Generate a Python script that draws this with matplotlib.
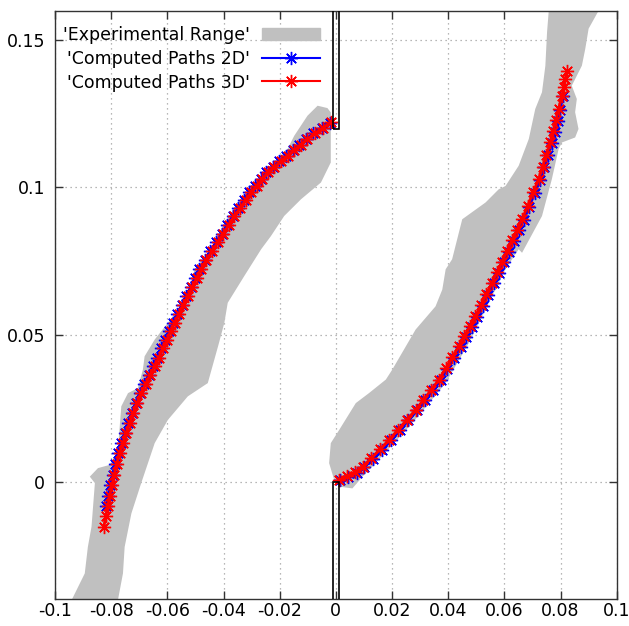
import matplotlib
matplotlib.use("Agg")
import matplotlib.pyplot as plt
from matplotlib.patches import Rectangle, Polygon
from matplotlib.ticker import FormatStrFormatter

plt.rcParams["font.family"] = ["DejaVu Sans"]
plt.rcParams["font.size"] = 12
plt.rcParams["axes.unicode_minus"] = False

# experimental range, left branch (outline)
band_left_x = [-0.0065, -0.0030, -0.0018, -0.0018, -0.0053, -0.0124, -0.0184, -0.0231, -0.0266,
               -0.0326, -0.0385, -0.0397, -0.0418, -0.0456, -0.0527, -0.0598, -0.0645,
               -0.0693, -0.0728, -0.0752, -0.0758, -0.0776, -0.0941, -0.0894, -0.0883, -0.0870,
               -0.0858, -0.0876, -0.0847, -0.0805, -0.0776, -0.0764, -0.0740, -0.0705, -0.0687,
               -0.0681, -0.0645, -0.0598, -0.0527, -0.0503, -0.0444, -0.0409, -0.0350, -0.0290,
               -0.0231, -0.0172, -0.0148, -0.0101]
band_left_y = [0.1278, 0.1270, 0.1255, 0.1085, 0.1017, 0.0960, 0.0903, 0.0835, 0.0790,
               0.0699, 0.0608, 0.0540, 0.0465, 0.0335, 0.0290, 0.0210, 0.0131,
               -0.0005, -0.0108, -0.0222, -0.0312, -0.0403, -0.0403, -0.0312, -0.0222, -0.0153,
               -0.0005, 0.0017, 0.0046, 0.0057, 0.0108, 0.0256, 0.0301, 0.0318, 0.0381,
               0.0426, 0.0483, 0.0540, 0.0631, 0.0722, 0.0790, 0.0858, 0.0949, 0.1017,
               0.1074, 0.1131, 0.1176, 0.1244]

# experimental range, right branch (outline)
band_right_x = [0.0012, 0.0059, 0.0095, 0.0130, 0.0272, 0.0391, 0.0474, 0.0545, 0.0604,
                0.0651, 0.0663, 0.0734, 0.0769, 0.0793, 0.0805, 0.0852, 0.0864, 0.0852,
                0.0858, 0.0840, 0.0876, 0.0888, 0.0900, 0.0935, 0.0758, 0.0752, 0.0746,
                0.0734, 0.0710, 0.0687, 0.0651, 0.0604, 0.0580, 0.0533, 0.0450, 0.0414,
                0.0391, 0.0379, 0.0355, 0.0284, 0.0201, 0.0178, 0.0118, 0.0071, 0.0012,
                -0.0018, -0.0024, -0.0006]
band_right_y = [-0.0017, -0.0023, 0.0017, 0.0051, 0.0199, 0.0335, 0.0472, 0.0608, 0.0722,
                0.0790, 0.0778, 0.0903, 0.1028, 0.1130, 0.1153, 0.1170, 0.1199, 0.1256,
                0.1301, 0.1346, 0.1414, 0.1471, 0.1540, 0.1600, 0.1600, 0.1528, 0.1414,
                0.1324, 0.1267, 0.1165, 0.1074, 0.1005, 0.0994, 0.0949, 0.0892, 0.0756,
                0.0722, 0.0653, 0.0596, 0.0517, 0.0381, 0.0347, 0.0301, 0.0267, 0.0176,
                0.0131, 0.0063, 0.0006]

# computed paths 3D
left3d_x = [-0.0826, -0.0819, -0.0812, -0.0805, -0.0797, -0.0789, -0.0780, -0.0770, -0.0758,
            -0.0746, -0.0734, -0.0721, -0.0707, -0.0693, -0.0677, -0.0661, -0.0645, -0.0630,
            -0.0615, -0.0601, -0.0588, -0.0574, -0.0558, -0.0543, -0.0527, -0.0511, -0.0496,
            -0.0480, -0.0461, -0.0441, -0.0421, -0.0401, -0.0381, -0.0361, -0.0341, -0.0321,
            -0.0302, -0.0282, -0.0262, -0.0243, -0.0219, -0.0196, -0.0172, -0.0148, -0.0125,
            -0.0101, -0.0074, -0.0046, -0.0018]
left3d_y = [-0.0153, -0.0118, -0.0083, -0.0048, -0.0012, 0.0024, 0.0060, 0.0097, 0.0131,
            0.0165, 0.0199, 0.0233, 0.0267, 0.0301, 0.0332, 0.0362, 0.0392, 0.0422,
            0.0453, 0.0483, 0.0512, 0.0540, 0.0570, 0.0601, 0.0631, 0.0661, 0.0692,
            0.0722, 0.0752, 0.0783, 0.0813, 0.0843, 0.0873, 0.0903, 0.0930, 0.0957,
            0.0983, 0.1006, 0.1029, 0.1051, 0.1070, 0.1089, 0.1108, 0.1127, 0.1146,
            0.1165, 0.1184, 0.1203, 0.1222]
right3d_x = [0.0012, 0.0040, 0.0068, 0.0095, 0.0126, 0.0158, 0.0189, 0.0221, 0.0252,
             0.0284, 0.0312, 0.0340, 0.0367, 0.0391, 0.0415, 0.0438, 0.0458, 0.0477,
             0.0497, 0.0517, 0.0536, 0.0556, 0.0574, 0.0592, 0.0610, 0.0628, 0.0645,
             0.0663, 0.0683, 0.0702, 0.0722, 0.0736, 0.0750, 0.0764, 0.0774, 0.0784,
             0.0793, 0.0805, 0.0811, 0.0817, 0.0823]
right3d_y = [0.0006, 0.0018, 0.0033, 0.0051, 0.0080, 0.0111, 0.0142, 0.0176, 0.0210,
             0.0244, 0.0278, 0.0313, 0.0347, 0.0385, 0.0423, 0.0460, 0.0494, 0.0528,
             0.0562, 0.0600, 0.0638, 0.0676, 0.0712, 0.0748, 0.0784, 0.0820, 0.0856,
             0.0892, 0.0937, 0.0983, 0.1028, 0.1070, 0.1111, 0.1153, 0.1191, 0.1229,
             0.1267, 0.1312, 0.1340, 0.1369, 0.1397]

# computed paths 2D
left2d_x = [-0.0818, -0.0811, -0.0803, -0.0795, -0.0786, -0.0776, -0.0764, -0.0752,
            -0.0740, -0.0727, -0.0713, -0.0699, -0.0683, -0.0667, -0.0651, -0.0636,
            -0.0621, -0.0607, -0.0594, -0.0580, -0.0564, -0.0549, -0.0533, -0.0517, -0.0502,
            -0.0486, -0.0467, -0.0447, -0.0427, -0.0407, -0.0387, -0.0367, -0.0347, -0.0327,
            -0.0308, -0.0288, -0.0268, -0.0249, -0.0225, -0.0202, -0.0178, -0.0154, -0.0131,
            -0.0107, -0.0080, -0.0051, -0.0022]
left2d_y = [-0.0083, -0.0048, -0.0012, 0.0024, 0.0060, 0.0097, 0.0131, 0.0165,
            0.0199, 0.0233, 0.0267, 0.0301, 0.0332, 0.0362, 0.0392, 0.0422,
            0.0453, 0.0483, 0.0512, 0.0540, 0.0570, 0.0601, 0.0631, 0.0661, 0.0692,
            0.0722, 0.0752, 0.0783, 0.0813, 0.0843, 0.0873, 0.0903, 0.0930, 0.0957,
            0.0983, 0.1006, 0.1029, 0.1051, 0.1070, 0.1089, 0.1108, 0.1127, 0.1146,
            0.1165, 0.1184, 0.1203, 0.1220]
right2d_x = [0.0016, 0.0045, 0.0074, 0.0101, 0.0132, 0.0164, 0.0195, 0.0227, 0.0258,
             0.0290, 0.0318, 0.0346, 0.0373, 0.0397, 0.0421, 0.0444, 0.0464, 0.0483,
             0.0503, 0.0523, 0.0542, 0.0562, 0.0580, 0.0598, 0.0616, 0.0634, 0.0651,
             0.0669, 0.0689, 0.0708, 0.0728, 0.0742, 0.0756, 0.0770, 0.0780, 0.0790,
             0.0799, 0.0808]
right2d_y = [0.0004, 0.0016, 0.0031, 0.0049, 0.0078, 0.0109, 0.0140, 0.0174, 0.0208,
             0.0242, 0.0276, 0.0311, 0.0345, 0.0383, 0.0421, 0.0458, 0.0492, 0.0526,
             0.0560, 0.0598, 0.0636, 0.0674, 0.0710, 0.0746, 0.0782, 0.0818, 0.0854,
             0.0890, 0.0935, 0.0981, 0.1026, 0.1068, 0.1109, 0.1151, 0.1189, 0.1227,
             0.1265, 0.1310]

# obstacle walls: (x0, y0, width, height)
walls = [(-0.001, 0.12, 0.002, 0.05), (-0.001, -0.05, 0.002, 0.05)]

xticks = [-0.1, -0.08, -0.06, -0.04, -0.02, 0, 0.02, 0.04, 0.06, 0.08, 0.1]
yticks = [0, 0.05, 0.1, 0.15]

fig = plt.figure(figsize=(6.29, 6.26), dpi=100)
ax = fig.add_axes([55 / 629, 26.7 / 626, 561.7 / 629, 588.3 / 626])

gray = '#c0c0c0'
ax.add_patch(Polygon(list(zip(band_left_x, band_left_y)), closed=True, fc=gray, ec='none', zorder=2))
ax.add_patch(Polygon(list(zip(band_right_x, band_right_y)), closed=True, fc=gray, ec='none', zorder=2))
ax.fill([], [], color=gray, label="'Experimental Range'")

ast = (8, 2, 0)
ax.plot(left2d_x, left2d_y, color='blue', lw=2, marker=ast, ms=9.5, mew=1, zorder=3,
        label="'Computed Paths 2D'")
ax.plot(right2d_x, right2d_y, color='blue', lw=2, marker=ast, ms=9.5, mew=1, zorder=3)
ax.plot(left3d_x, left3d_y, color='red', lw=2, marker=ast, ms=9.5, mew=1, zorder=4,
        label="'Computed Paths 3D'")
ax.plot(right3d_x, right3d_y, color='red', lw=2, marker=ast, ms=9.5, mew=1, zorder=4)

for x0, y0, w, h in walls:
    ax.add_patch(Rectangle((x0, y0), w, h, fc='none', ec='black', lw=1.2, zorder=5))

ax.set_xlim(-0.1, 0.1)
ax.set_ylim(-0.04, 0.16)
ax.set_xticks(xticks)
ax.set_yticks(yticks)
ax.xaxis.set_major_formatter(FormatStrFormatter('%g'))
ax.yaxis.set_major_formatter(FormatStrFormatter('%g'))
ax.tick_params(direction='in', length=6, width=1, top=True, right=True, colors='#333333',
               labelcolor='black', labelsize=12.5)
ax.tick_params(axis='x', pad=2)
ax.tick_params(axis='y', pad=7)
ax.grid(True, color='#a0a0a0', linestyle=(0, (1, 3)), linewidth=0.9, zorder=1)
ax.set_axisbelow(True)
for s in ax.spines.values():
    s.set_color('#333333')
    s.set_linewidth(1)

leg = ax.legend(loc='upper right', bbox_to_anchor=(0.493, 0.995), frameon=False, markerfirst=False,
                handlelength=3.3, handletextpad=0.7, labelspacing=0.33, borderpad=0.2, fontsize=12.5)
for h in leg.legend_handles[1:]:
    h.set_linewidth(1.5)

fig.savefig('out.png', dpi=100)
